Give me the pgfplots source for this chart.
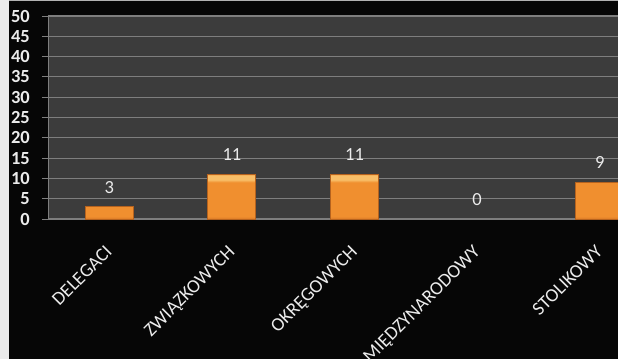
\documentclass[border=0pt]{standalone}
\usepackage{pgfplots}
\pgfplotsset{compat=1.18}
\usepackage{fontspec}
\setmainfont{Carlito}
\definecolor{bgblack}{HTML}{060606}
\definecolor{plotbg}{HTML}{3C3C3C}
\definecolor{gridc}{HTML}{7E7E7E}
\definecolor{barmain}{HTML}{F08F2F}
\definecolor{bardark}{HTML}{B5621E}
\definecolor{barlight}{HTML}{F8BE68}
\definecolor{barside}{HTML}{DB7A27}
\pgfdeclareverticalshading{barshade}{100bp}{color(0bp)=(barside); color(25bp)=(barside); color(28bp)=(barmain); color(66bp)=(barmain); color(69bp)=(barlight); color(74bp)=(barlight); color(75bp)=(barmain); color(100bp)=(barmain)}
\begin{document}
\begin{tikzpicture}[x=1pt,y=1pt]
\clip (0,0) rectangle (618,359);
\fill[bgblack] (0,0) rectangle (618,359);
\fill[white!92!black] (0,0) rectangle (9,359);
\fill[white!70!black] (9,357.5) rectangle (618,359);
\begin{axis}[
  at={(48pt,140pt)}, anchor=south west,
  scale only axis, width=570pt, height=203pt,
  xmin=-0.5, xmax=4.149, ymin=0, ymax=50,
  ytick={0,5,...,50},
  xtick={0,1,2,3,4},
  xticklabels={DELEGACI, ZWIĄZKOWYCH, OKRĘGOWYCH, MIĘDZYNARODOWY, STOLIKOWY},
  minor xtick={-0.5,0.5,1.5,2.5,3.5},
  axis background/.style={fill=plotbg},
  axis x line*=bottom, axis y line*=left,
  axis line style={gridc, line width=1pt},
  x axis line style={-}, y axis line style={-},
  tick align=outside,
  major tick length=6pt, minor tick length=6pt,
  xtick style={draw=none},
  xminorgrids=false,
  every minor tick/.append style={gridc, line width=1pt, draw=gridc},
  ytick style={gridc, line width=1pt},
  ymajorgrids, grid style={gridc, line width=1.1pt},
  yticklabel style={font=\fontsize{18.5}{18}\selectfont\bfseries, text=white!92!black, inner sep=0pt, xshift=-12pt},
  xticklabel style={font=\fontsize{19}{19}\selectfont, text=white!92!black, xshift=-5pt, yshift=-19pt, rotate=45, anchor=north east, inner sep=0pt},
  /pgf/number format/assume math mode=true,
  ybar, bar width=48pt, bar shift=0pt,
  nodes near coords,
  every node near coord/.style={font=\fontsize{18.5}{18}\selectfont, text=white!92!black, anchor=south, inner sep=0pt, yshift=13pt},
  clip=true,
]
\addplot[shading=barshade, draw=bardark, line width=1pt]
  coordinates {(0,3) (1,11) (2,11) (4,9)};
\addplot[draw=none, fill=none]
  coordinates {(3,0)};
\end{axis}
\end{tikzpicture}
\end{document}
